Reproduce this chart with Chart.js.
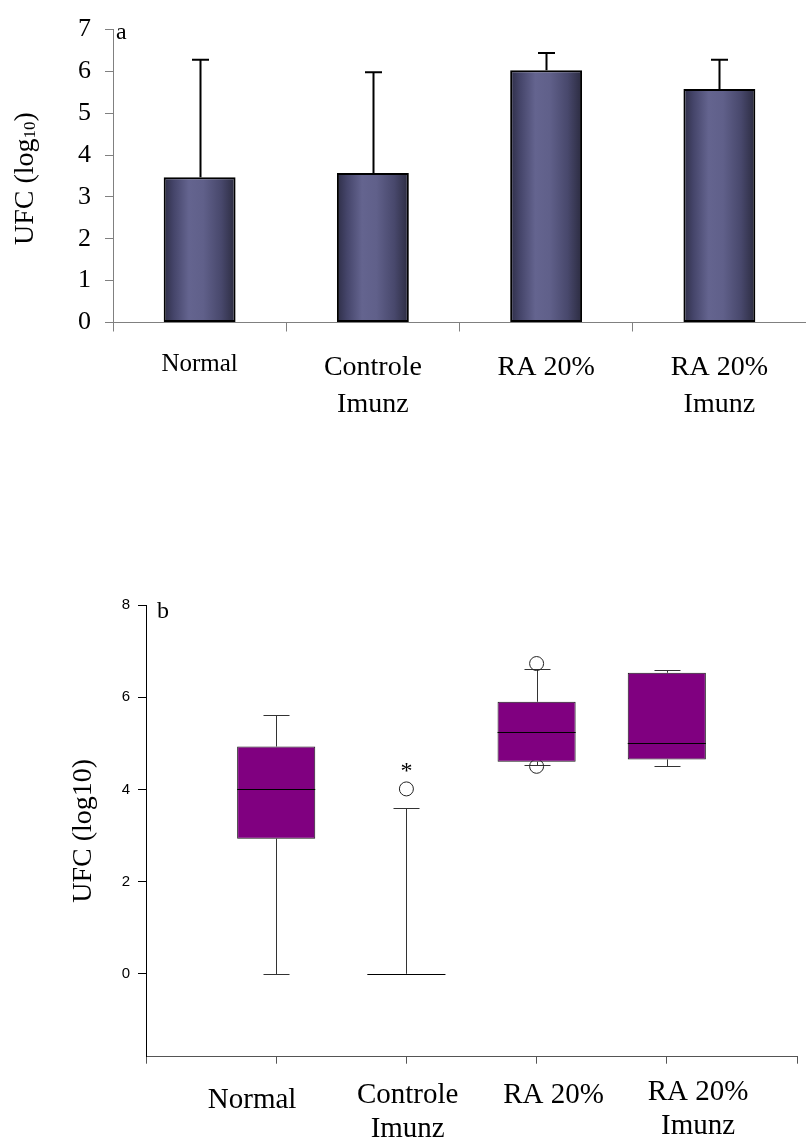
<!DOCTYPE html>
<html>
<head>
<meta charset="utf-8">
<script src="https://cdn.jsdelivr.net/npm/chart.js@4.4.1/dist/chart.umd.min.js"></script>
<style>
  html, body { margin: 0; padding: 0; background: #fff; width: 806px; height: 1144px; overflow: hidden; }
  #wrapA { position: absolute; left: 0; top: 0; width: 806px; height: 440px; }
  #wrapB { position: absolute; left: 0; top: 560px; width: 806px; height: 584px; }
</style>
</head>
<body>
<div id="wrapA"><canvas id="chartA"></canvas></div>
<div id="wrapB"><canvas id="chartB"></canvas></div>
<script>
// Groups shared by both panels
const groups = ['Normal', ['Controle', 'Imunz'], 'RA 20%', ['RA 20%', 'Imunz']];

// Panel a: mean UFC (log10) per group and top of the error bar
const meanLog = [3.47, 3.57, 6.03, 5.58];
const upperLog = [6.28, 5.98, 6.44, 6.28];
const ticksA = [0, 1, 2, 3, 4, 5, 6, 7];

// Panel b: box-plot summaries per group
const boxMin = [0, 0, 4.52, 4.51];
const boxQ1 = [2.93, 0, 4.60, 4.65];
const boxMedian = [4.00, 0, 5.25, 5.01];
const boxQ3 = [4.93, 0, 5.90, 6.53];
const boxMax = [5.61, 3.60, 6.62, 6.60];
// outliers: group index and value
const outlierGroup = [1, 2, 2];
const outlierValue = [4.01, 6.73, 4.50];
const markedGroup = 1; // group flagged with an asterisk above its outlier
const ticksB = [0, 2, 4, 6, 8];

// Layout of the panel b category captions (axis units and vertical offsets)
const captionAt = [0.815, 2.01, 3.13, 4.24];
const captionDy = [44, 39, 39, 36];

const serif = "'Liberation Serif', 'Times New Roman', serif";
const sans = "'Liberation Sans', Arial, sans-serif";
Chart.defaults.font.family = serif;
Chart.defaults.color = '#000';

const BAR_FRACTION = 0.415;

// Horizontal shading across each bar
function barFill(ctx) {
  const chart = ctx.chart;
  const xs = chart.scales && chart.scales.x;
  const fallback = '#5a5a86';
  if (!xs || ctx.dataIndex === undefined) return fallback;
  const c = xs.getPixelForValue(ctx.dataIndex);
  const half = xs.width / groups.length * BAR_FRACTION / 2;
  if (!isFinite(c) || !isFinite(half) || half <= 0) return fallback;
  const g = chart.ctx.createLinearGradient(c - half, 0, c + half, 0);
  g.addColorStop(0, '#2e2e47');
  g.addColorStop(0.14, '#45456a');
  g.addColorStop(0.35, '#64648f');
  g.addColorStop(0.55, '#60608a');
  g.addColorStop(0.8, '#48486c');
  g.addColorStop(1, '#2b2b40');
  return g;
}

const panelA = {
  id: 'panelA',
  afterDatasetsDraw(chart) {
    const { ctx, scales: { x, y }, chartArea } = chart;
    ctx.save();
    // error bars (upper half only)
    ctx.strokeStyle = '#000';
    ctx.lineWidth = 2;
    meanLog.forEach((m, i) => {
      const px = Math.round(x.getPixelForValue(i)) + 0.5;
      const y0 = y.getPixelForValue(m);
      const y1 = y.getPixelForValue(upperLog[i]);
      ctx.beginPath();
      ctx.moveTo(px, y0);
      ctx.lineTo(px, y1);
      ctx.moveTo(px - 8.5, y1);
      ctx.lineTo(px + 8.5, y1);
      ctx.stroke();
    });
    // panel letter
    ctx.fillStyle = '#000';
    ctx.font = '24px ' + serif;
    ctx.textAlign = 'left';
    ctx.textBaseline = 'alphabetic';
    ctx.fillText('a', chartArea.left + 3, chartArea.top + 9);
    // axis title with subscript
    const parts = [
      { t: 'UFC (log', size: 28, dy: 0 },
      { t: '10', size: 17, dy: 2 },
      { t: ')', size: 28, dy: 0 }
    ];
    let total = 0;
    parts.forEach(p => { ctx.font = p.size + 'px ' + serif; p.w = ctx.measureText(p.t).width; total += p.w; });
    ctx.translate(33, 178.5);
    ctx.rotate(-Math.PI / 2);
    let cx = -total / 2;
    parts.forEach(p => {
      ctx.font = p.size + 'px ' + serif;
      ctx.fillText(p.t, cx, p.dy);
      cx += p.w;
    });
    ctx.restore();
  }
};

new Chart(document.getElementById('chartA'), {
  type: 'bar',
  data: {
    labels: groups,
    datasets: [{
      data: meanLog,
      backgroundColor: barFill,
      borderColor: '#000',
      borderWidth: 2,
      borderSkipped: false,
      categoryPercentage: 1,
      barPercentage: BAR_FRACTION
    }]
  },
  options: {
    responsive: true,
    maintainAspectRatio: false,
    animation: false,
    layout: { padding: { top: 19.5, right: 0, bottom: 0, left: 0 } },
    plugins: { legend: { display: false }, tooltip: { enabled: false } },
    scales: {
      x: {
        offset: true,
        grid: { offset: true, drawOnChartArea: false, tickLength: 9, color: '#808080' },
        border: { color: '#808080' },
        ticks: {
          autoSkip: false,
          maxRotation: 0,
          padding: 18,
          color: '#000',
          font: c => c.index === 0 ? { size: 25, lineHeight: 1.2 } : { size: 28, lineHeight: 1.32 }
        },
        afterFit: s => { s.height = 440 - 322.5; }
      },
      y: {
        min: 0,
        max: 7,
        afterBuildTicks: s => { s.ticks = ticksA.map(v => ({ value: v })); },
        ticks: { padding: 14, color: '#000', font: { size: 26 } },
        grid: { drawOnChartArea: false, tickLength: 8, color: '#808080' },
        border: { color: '#808080' },
        afterFit: s => { s.width = 113; }
      }
    }
  },
  plugins: [panelA]
});

const positions = groups.map((_, i) => i + 1);

const panelB = {
  id: 'panelB',
  beforeDatasetsDraw(chart) {
    const { ctx, scales: { x, y } } = chart;
    ctx.save();
    ctx.strokeStyle = '#333';
    ctx.lineWidth = 1;
    positions.forEach((p, i) => {
      const px = Math.round(x.getPixelForValue(p)) + 0.5;
      const yMax = Math.round(y.getPixelForValue(boxMax[i])) + 0.5;
      const yMin = Math.round(y.getPixelForValue(boxMin[i])) + 0.5;
      const yQ3 = y.getPixelForValue(boxQ3[i]);
      const yQ1 = y.getPixelForValue(boxQ1[i]);
      ctx.beginPath();
      ctx.moveTo(px, yQ3); ctx.lineTo(px, yMax);
      ctx.moveTo(px - 13, yMax); ctx.lineTo(px + 13, yMax);
      ctx.moveTo(px, yQ1); ctx.lineTo(px, yMin);
      ctx.moveTo(px - 13, yMin); ctx.lineTo(px + 13, yMin);
      ctx.stroke();
    });
    ctx.restore();
  },
  afterDatasetsDraw(chart) {
    const { ctx, scales: { x, y }, chartArea } = chart;
    const bars = chart.getDatasetMeta(0).data;
    ctx.save();
    // medians
    ctx.strokeStyle = '#000';
    ctx.lineWidth = 1;
    positions.forEach((p, i) => {
      const bar = bars[i];
      const ym = Math.round(y.getPixelForValue(boxMedian[i])) + 0.5;
      ctx.beginPath();
      ctx.moveTo(bar.x - bar.width / 2, ym);
      ctx.lineTo(bar.x + bar.width / 2, ym);
      ctx.stroke();
    });
    // asterisk over the flagged outlier
    ctx.fillStyle = '#000';
    ctx.textAlign = 'center';
    ctx.textBaseline = 'middle';
    const k = outlierGroup.indexOf(markedGroup);
    ctx.font = '24px ' + serif;
    ctx.fillText('*', x.getPixelForValue(markedGroup + 1), y.getPixelForValue(outlierValue[k]) - 17);
    // category captions
    ctx.font = '29px ' + serif;
    groups.forEach((g, i) => {
      const lines = Array.isArray(g) ? g : [g];
      const cx = x.getPixelForValue(captionAt[i]);
      lines.forEach((t, j) => {
        ctx.fillText(t, cx, chartArea.bottom + captionDy[i] + j * 34);
      });
    });
    // panel letter
    ctx.textAlign = 'left';
    ctx.textBaseline = 'alphabetic';
    ctx.font = '24px ' + serif;
    ctx.fillText('b', chartArea.left + 11, chartArea.top + 13);
    // axis title
    ctx.font = '28px ' + serif;
    ctx.textAlign = 'center';
    ctx.translate(91, (chartArea.top + chartArea.bottom) / 2);
    ctx.rotate(-Math.PI / 2);
    ctx.fillText('UFC (log10)', 0, 0);
    ctx.restore();
  }
};

new Chart(document.getElementById('chartB'), {
  type: 'bar',
  data: {
    datasets: [
      {
        type: 'bar',
        data: positions.map((p, i) => ({ x: p, y: [boxQ1[i], boxQ3[i]] })),
        backgroundColor: '#800080',
        borderColor: '#1a1a1a',
        borderWidth: 1,
        borderSkipped: false,
        categoryPercentage: 1,
        barPercentage: 0.6
      },
      {
        type: 'line',
        data: outlierGroup.map((g, i) => ({ x: g + 1, y: outlierValue[i] })),
        showLine: false,
        pointStyle: 'circle',
        pointRadius: 7,
        pointBorderWidth: 1,
        pointBorderColor: '#222',
        pointBackgroundColor: 'rgba(255,255,255,0)'
      }
    ]
  },
  options: {
    responsive: true,
    maintainAspectRatio: false,
    animation: false,
    layout: { padding: { top: 45, right: 9, bottom: 0, left: 0 } },
    plugins: { legend: { display: false }, tooltip: { enabled: false } },
    scales: {
      x: {
        type: 'linear',
        min: 0,
        max: 5,
        offset: false,
        grid: { offset: false, drawOnChartArea: false, tickLength: 7, color: '#555' },
        border: { color: '#555' },
        ticks: { stepSize: 1, autoSkip: false, maxRotation: 0, callback: () => '' },
        afterFit: s => { s.height = 584 - 496.7; }
      },
      y: {
        min: -1.8,
        max: 8,
        afterBuildTicks: s => { s.ticks = ticksB.map(v => ({ value: v })); },
        ticks: { padding: 8, color: '#000', font: { family: sans, size: 15 } },
        grid: { drawOnChartArea: false, tickLength: 8, color: '#000' },
        border: { color: '#000' },
        afterFit: s => { s.width = 146; }
      }
    }
  },
  plugins: [panelB]
});
</script>
</body>
</html>
